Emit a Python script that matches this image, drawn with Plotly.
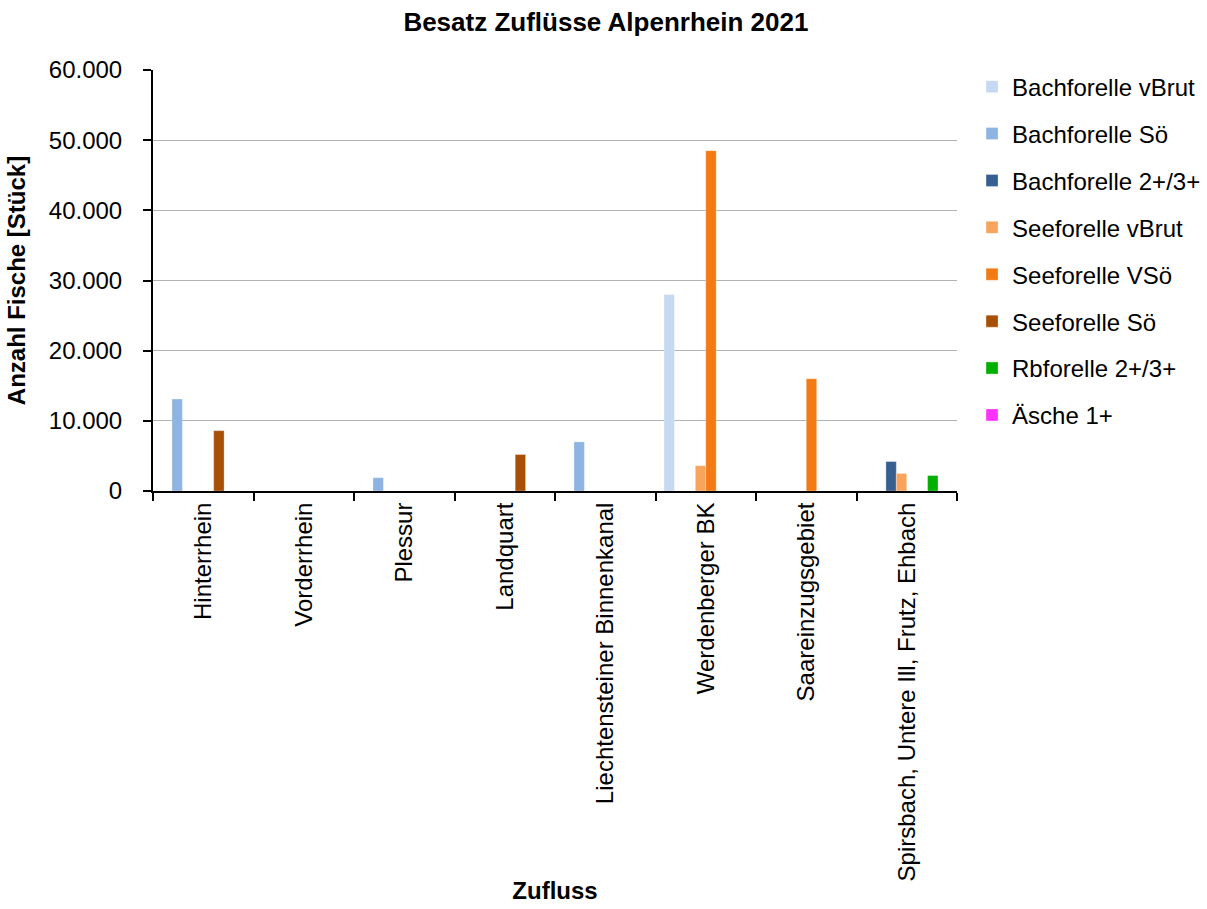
import plotly.graph_objects as go

zufluesse = [
    "Hinterrhein",
    "Vorderrhein",
    "Plessur",
    "Landquart",
    "Liechtensteiner Binnenkanal",
    "Werdenberger BK",
    "Saareinzugsgebiet",
    "Spirsbach, Untere Ill, Frutz, Ehbach",
]

bachforelle_vbrut = [0, 0, 0, 0, 0, 28000, 0, 0]
bachforelle_soe = [13100, 0, 1900, 0, 7000, 0, 0, 0]
bachforelle_23 = [0, 0, 0, 0, 0, 0, 0, 4200]
seeforelle_vbrut = [0, 0, 0, 0, 0, 3600, 0, 2500]
seeforelle_vsoe = [0, 0, 0, 0, 0, 48500, 16000, 0]
seeforelle_soe = [8600, 0, 0, 5200, 0, 0, 0, 0]
rbforelle_23 = [0, 0, 0, 0, 0, 0, 0, 2200]
aesche_1 = [0, 0, 0, 0, 0, 0, 0, 0]

series = [
    ("Bachforelle vBrut", bachforelle_vbrut, "#c6d9f1"),
    ("Bachforelle Sö", bachforelle_soe, "#8db4e2"),
    ("Bachforelle 2+/3+", bachforelle_23, "#376092"),
    ("Seeforelle vBrut", seeforelle_vbrut, "#f8a45c"),
    ("Seeforelle VSö", seeforelle_vsoe, "#f47a13"),
    ("Seeforelle Sö", seeforelle_soe, "#a84f06"),
    ("Rbforelle 2+/3+", rbforelle_23, "#00b000"),
    ("Äsche 1+", aesche_1, "#ff33ff"),
]

fig = go.Figure()
for i, (name, vals, color) in enumerate(series):
    fig.add_trace(go.Bar(
        name=name, x=zufluesse, y=vals,
        marker=dict(color=color, line=dict(color="rgba(255,255,255,0.6)", width=0.5)),
        legendgroup=f"g{i}",
    ))

font = "Liberation Sans, Arial, sans-serif"
fig.update_layout(
    width=1207, height=909,
    paper_bgcolor="white", plot_bgcolor="white",
    barmode="group", bargap=0.17, bargroupgap=0,
    separators=",.",
    font=dict(family=font, size=24, color="black"),
    title=dict(text="<b>Besatz Zuflüsse Alpenrhein 2021</b>", x=0.502, xanchor="center",
               y=0.976, yanchor="middle", font=dict(size=26)),
    margin=dict(l=153, r=250, t=70, b=418, autoexpand=False),
    legend=dict(x=1.0187, xanchor="left", y=1.013, yanchor="top",
                traceorder="grouped", tracegroupgap=12.7,
                font=dict(size=24), itemwidth=30),
    xaxis=dict(
        showline=True, linecolor="black", linewidth=2,
        ticks="outside", tickson="boundaries", ticklen=8, tickcolor="black", tickwidth=2,
        tickangle=-90, tickfont=dict(size=24),
        title=dict(text="<b>Zufluss</b>", font=dict(size=24), standoff=2),
    ),
    yaxis=dict(
        range=[0, 60000], dtick=10000, tickformat=",",
        showline=True, linecolor="black", linewidth=2,
        ticks="outside", ticklen=8, tickcolor="black", tickwidth=1.5,
        ticklabelstandoff=16,
        showgrid=True, gridcolor="#b3b3b3", gridwidth=1.3,
        tickfont=dict(size=24),
        title=dict(text="<b>Anzahl Fische [Stück]</b>", font=dict(size=24), standoff=16),
        zeroline=False,
    ),
)

fig.write_html("out.html")
